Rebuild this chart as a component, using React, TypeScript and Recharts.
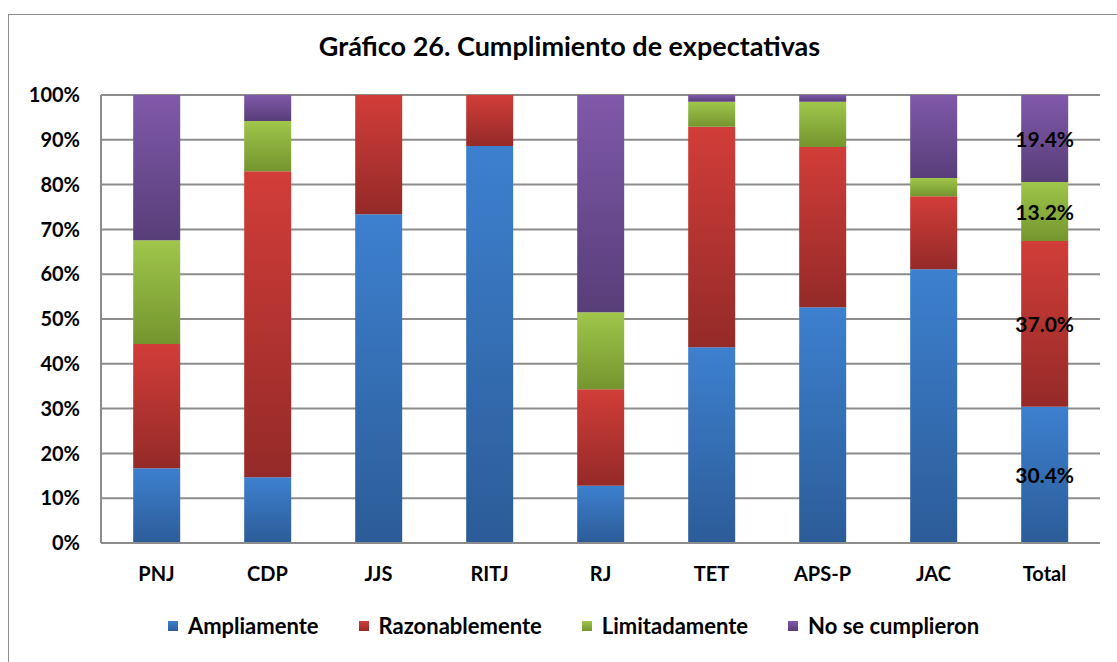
import React from 'react'
import {
  BarChart,
  Bar,
  XAxis,
  YAxis,
  CartesianGrid,
  Legend,
  LabelList,
} from 'recharts'

const categories = ['PNJ', 'CDP', 'JJS', 'RITJ', 'RJ', 'TET', 'APS-P', 'JAC', 'Total']
const ampliamente = [16.7, 14.7, 73.4, 88.6, 12.8, 43.7, 52.6, 61.1, 30.4]
const razonablemente = [27.7, 68.3, 26.6, 11.4, 21.5, 49.2, 35.8, 16.3, 37.0]
const limitadamente = [23.2, 11.2, 0, 0, 17.2, 5.6, 10.1, 4.1, 13.2]
const noSeCumplieron = [32.4, 5.8, 0, 0, 48.5, 1.5, 1.5, 18.5, 19.4]
const yTicks = [0, 10, 20, 30, 40, 50, 60, 70, 80, 90, 100]
// value labels are only shown on this category
const LABELLED = 'Total'

const SERIES = [
  { key: 'amp', name: 'Ampliamente', top: '#3d80cf', bottom: '#2c5c98' },
  { key: 'raz', name: 'Razonablemente', top: '#d23d39', bottom: '#942a28' },
  { key: 'lim', name: 'Limitadamente', top: '#a0c64b', bottom: '#74952e' },
  { key: 'no', name: 'No se cumplieron', top: '#8059aa', bottom: '#583e79' },
]

const data = categories.map((c, i) => {
  const show = c === LABELLED
  return {
    name: c,
    amp: ampliamente[i],
    raz: razonablemente[i],
    lim: limitadamente[i],
    no: noSeCumplieron[i],
    ampLabel: show ? ampliamente[i] : null,
    razLabel: show ? razonablemente[i] : null,
    limLabel: show ? limitadamente[i] : null,
    noLabel: show ? noSeCumplieron[i] : null,
  }
})

const FONT = 'Lato, "Open Sans", sans-serif'
const GRID = '#8c8c8c'

const valueLabel = (props: any) => {
  const { x, y, width, height, value } = props
  if (value == null) return null
  return (
    <text
      x={x + width / 2}
      y={y + height / 2}
      textAnchor="middle"
      dominantBaseline="central"
      fontFamily={FONT}
      fontWeight={700}
      fontSize={21}
      fill="#000"
    >
      {Number(value).toFixed(1)}%
    </text>
  )
}

const LegendContent = () => (
  <div
    style={{
      display: 'flex',
      justifyContent: 'center',
      gap: 40,
      fontFamily: FONT,
      fontWeight: 700,
      fontSize: 22,
      color: '#000',
    }}
  >
    {SERIES.map((s) => (
      <span key={s.key} style={{ display: 'flex', alignItems: 'center', gap: 10 }}>
        <span
          style={{
            width: 10,
            height: 10,
            background: `linear-gradient(${s.top}, ${s.bottom})`,
            display: 'inline-block',
          }}
        />
        {s.name}
      </span>
    ))}
  </div>
)

export default function App() {
  return (
    <div style={{ position: 'absolute', left: 0, top: 0, width: 1117, height: 662, background: '#fff', overflow: 'hidden' }}>
      {/* outer chart frame */}
      <div
        style={{
          position: 'absolute',
          left: 8,
          top: 14,
          width: 1200,
          height: 700,
          borderLeft: '1.5px solid #8c8c8c',
          borderTop: '1.5px solid #8c8c8c',
        }}
      />
      <div
        style={{
          position: 'absolute',
          left: 0,
          top: 29,
          width: 1139,
          textAlign: 'center',
          fontFamily: FONT,
          fontWeight: 700,
          fontSize: 27,
          color: '#000',
        }}
      >
        Gráfico 26. Cumplimiento de expectativas
      </div>
      <div style={{ position: 'absolute', left: 0, top: 0 }}>
        <BarChart
          width={1117}
          height={662}
          data={data}
          margin={{ top: 95, right: 17, bottom: 0, left: 0 }}
          barCategoryGap="29%"
        >
          <defs>
            {SERIES.map((s) => (
              <linearGradient key={s.key} id={`grad-${s.key}`} x1="0" y1="0" x2="0" y2="1">
                <stop offset="0%" stopColor={s.top} />
                <stop offset="100%" stopColor={s.bottom} />
              </linearGradient>
            ))}
          </defs>
          <CartesianGrid vertical={false} stroke={GRID} strokeWidth={2} />
          <XAxis
            dataKey="name"
            axisLine={{ stroke: GRID, strokeWidth: 2 }}
            tickLine={false}
            tickSize={0}
            tickMargin={24}
            height={119}
            tick={{ fontFamily: FONT, fontWeight: 700, fontSize: 20, fill: '#000' }}
            interval={0}
          />
          <YAxis
            domain={[0, 100]}
            ticks={yTicks}
            allowDataOverflow
            width={101}
            axisLine={{ stroke: GRID, strokeWidth: 2 }}
            tickLine={false}
            tickSize={0}
            tickMargin={21}
            tickFormatter={(v) => `${v}%`}
            tick={{ fontFamily: FONT, fontWeight: 700, fontSize: 20, fill: '#000' }}
          />
          <Legend
            verticalAlign="middle"
            content={<LegendContent />}
            wrapperStyle={{ left: 0, top: 612, width: 1147 }}
          />
          {SERIES.map((s) => (
            <Bar
              key={s.key}
              dataKey={s.key}
              name={s.name}
              stackId="a"
              fill={`url(#grad-${s.key})`}
              isAnimationActive={false}
            >
              <LabelList dataKey={`${s.key}Label`} content={valueLabel} />
            </Bar>
          ))}
        </BarChart>
      </div>
    </div>
  )
}
